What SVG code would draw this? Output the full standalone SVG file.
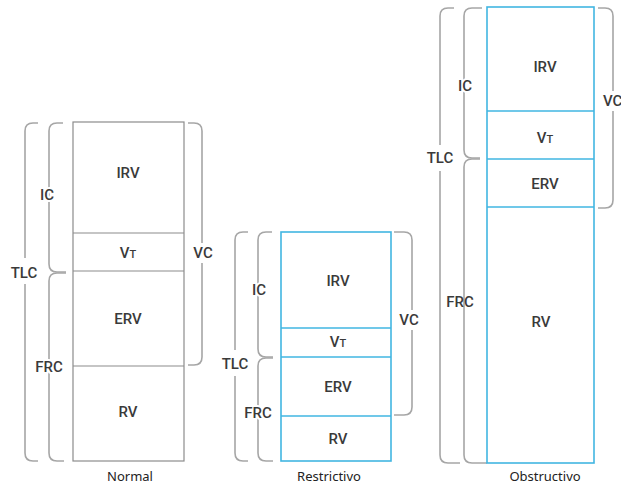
<svg xmlns="http://www.w3.org/2000/svg" width="621" height="485" viewBox="0 0 621 485">
<style>
.bg{fill:#fff}
.br{fill:none;stroke:#a6a6a6;stroke-width:1.6}
.rn{fill:#fff;stroke:#8c8c8c;stroke-width:1.2}
.rb{fill:#fff;stroke:#41b6e2;stroke-width:1.6}
.dn{stroke:#8c8c8c;stroke-width:1.2}
.db{stroke:#41b6e2;stroke-width:1.6}
.t{font-family:Roboto,"Liberation Sans",Arial,sans-serif;font-size:15px;font-weight:500;fill:#3a3a3a;text-anchor:middle}
.h{paint-order:stroke;stroke:#fff;stroke-width:4;stroke-linejoin:round}
.s{font-size:11px}
.cap{font-family:"Noto Sans","Open Sans",sans-serif;font-size:13px;fill:#222;text-anchor:middle}
.ko{fill:#fff}
</style>
<rect class="bg" x="0" y="0" width="621" height="485"/>

<g id="connectors">
  <!-- Normal braces -->
  <path class="br" d="M38,123 H33 Q25,123 25,131 V453 Q25,461 33,461 H38"/>
  <path class="br" d="M63,123 H57 Q49,123 49,131 V264 Q49,272 57,272 H66"/>
  <path class="br" d="M66,273 H57 Q49,273 49,281 V453 Q49,461 57,461 H64"/>
  <path class="br" d="M188,123 H194 Q202,123 202,131 V357 Q202,365 194,365 H188"/>
  <!-- Restrictivo braces -->
  <path class="br" d="M248,232 H243 Q235,232 235,240 V453 Q235,461 243,461 H248"/>
  <path class="br" d="M272,232 H266 Q258,232 258,240 V349 Q258,357 266,357 H273"/>
  <path class="br" d="M273,358 H266 Q258,358 258,366 V453 Q258,461 266,461 H273"/>
  <path class="br" d="M394,232 H404 Q412,232 412,240 V407 Q412,415 404,415 H394"/>
  <!-- Obstructivo braces -->
  <path class="br" d="M454,8 H448 Q440,8 440,16 V455 Q440,463 448,463 H460"/>
  <path class="br" d="M482,8 H472 Q464,8 464,16 V150 Q464,158 472,158 H480"/>
  <path class="br" d="M480,159 H472 Q464,159 464,167 V455 Q464,463 472,463 H487"/>
  <path class="br" d="M598,8 H605 Q613,8 613,16 V200 Q613,208 605,208 H598"/>
</g>

<g id="normal">
  <rect class="rn" x="73" y="122" width="111" height="339"/>
  <line class="dn" x1="73" y1="233" x2="184" y2="233"/>
  <line class="dn" x1="73" y1="271" x2="184" y2="271"/>
  <line class="dn" x1="73" y1="366" x2="184" y2="366"/>
  <text class="t" x="128" y="178">IRV</text>
  <text class="t" x="128" y="258">V<tspan class="s">T</tspan></text>
  <text class="t" x="128" y="324">ERV</text>
  <text class="t" x="128" y="417">RV</text>
  <rect class="ko" x="191" y="243" width="24" height="20"/>
  <text class="t" x="203" y="258">VC</text>
  <rect class="ko" x="9" y="258" width="31" height="26"/>
  <text class="t" x="24" y="278">TLC</text>
  <text class="t h" x="47" y="200">IC</text>
  <text class="t h" x="49" y="372">FRC</text>
  <text class="cap" x="130" y="481">Normal</text>
</g>

<g id="restrictivo">
  <rect class="rb" x="281" y="232" width="110" height="229"/>
  <line class="db" x1="281" y1="328" x2="391" y2="328"/>
  <line class="db" x1="281" y1="357" x2="391" y2="357"/>
  <line class="db" x1="281" y1="416" x2="391" y2="416"/>
  <text class="t" x="338" y="286">IRV</text>
  <text class="t" x="338" y="347">V<tspan class="s">T</tspan></text>
  <text class="t" x="338" y="392">ERV</text>
  <text class="t" x="338" y="444">RV</text>
  <rect class="ko" x="398" y="310" width="24" height="20"/>
  <text class="t" x="409" y="325">VC</text>
  <rect class="ko" x="220" y="350" width="31" height="26"/>
  <text class="t" x="235" y="369">TLC</text>
  <text class="t h" x="259" y="295">IC</text>
  <text class="t h" x="258" y="418">FRC</text>
  <text class="cap" x="329" y="481">Restrictivo</text>
</g>

<g id="obstructivo">
  <rect class="rb" x="487" y="7" width="107" height="456"/>
  <line class="db" x1="487" y1="111" x2="594" y2="111"/>
  <line class="db" x1="487" y1="159" x2="594" y2="159"/>
  <line class="db" x1="487" y1="207" x2="594" y2="207"/>
  <text class="t" x="545" y="72">IRV</text>
  <text class="t" x="545" y="143">V<tspan class="s">T</tspan></text>
  <text class="t" x="545" y="189">ERV</text>
  <text class="t" x="541" y="327">RV</text>
  <rect class="ko" x="602" y="91" width="19" height="20"/>
  <text class="t" x="603" y="106" style="text-anchor:start">VC</text>
  <rect class="ko" x="425" y="145" width="31" height="26"/>
  <text class="t" x="440" y="163">TLC</text>
  <text class="t h" x="465" y="91">IC</text>
  <text class="t" x="460" y="307">FRC</text>
  <text class="cap" x="545" y="481">Obstructivo</text>
</g>
</svg>
